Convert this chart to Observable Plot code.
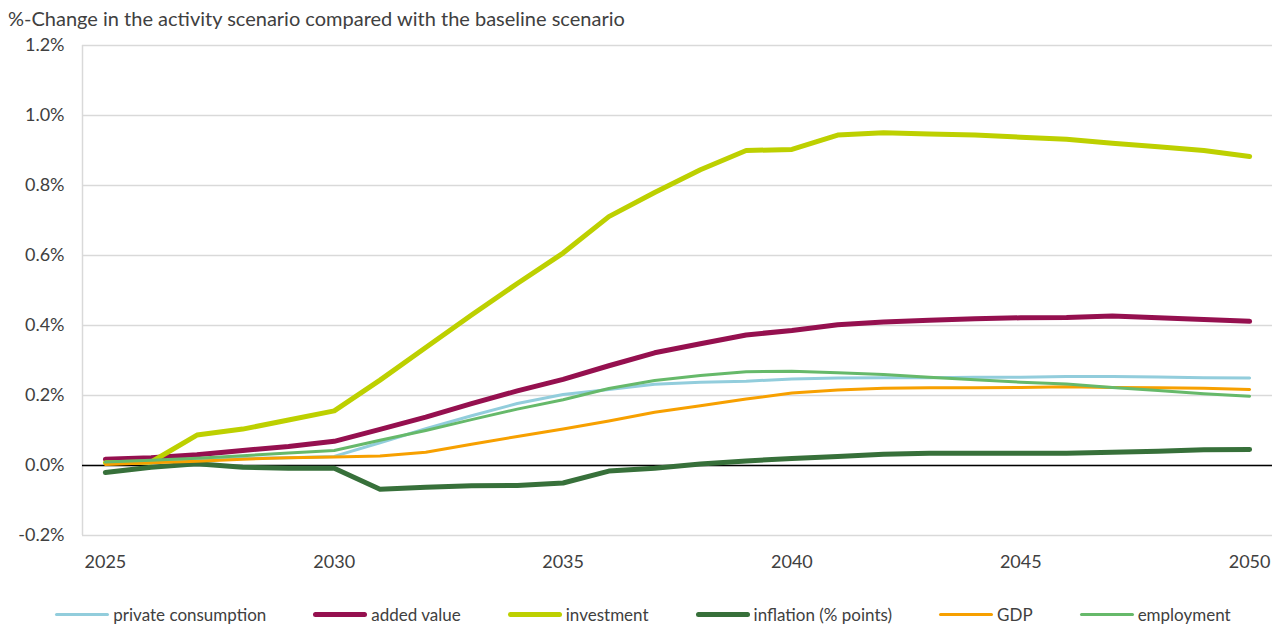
<!DOCTYPE html>
<html>
<head>
<meta charset="utf-8">
<script src="https://cdn.jsdelivr.net/npm/d3@7"></script>
<script src="https://cdn.jsdelivr.net/npm/@observablehq/plot@0.6"></script>
<style>
  html, body { margin: 0; padding: 0; background: #fff; }
  body { font-family: Lato, "Open Sans", sans-serif; color: #404040; width: 1286px; }
  #title { height: 25px; line-height: 36px; font-size: 20px; padding-left: 8px; white-space: nowrap; overflow: visible; position: relative; z-index: 1; }
  #chart svg { display: block; }
  #legend { height: 36px; display: flex; justify-content: center; align-items: center; gap: 47px; font-size: 17px; }
  .item { display: flex; align-items: center; gap: 4px; white-space: nowrap; }
  .swatch { width: 54px; border-radius: 3px; }
</style>
</head>
<body>
<div id="title">%-Change in the activity scenario compared with the baseline scenario</div>
<div id="chart"></div>
<div id="legend"></div>
<script>
// Years of the projection horizon
const years = [2025, 2026, 2027, 2028, 2029, 2030, 2031, 2032, 2033, 2034, 2035, 2036, 2037,
               2038, 2039, 2040, 2041, 2042, 2043, 2044, 2045, 2046, 2047, 2048, 2049, 2050];

// Deviation from the baseline, in percent (inflation in percentage points)
const privateConsumption = [0.015, 0.016, 0.018, 0.020, 0.022, 0.026, 0.065, 0.105, 0.142, 0.177, 0.203, 0.217, 0.232,
                            0.238, 0.241, 0.247, 0.250, 0.251, 0.251, 0.252, 0.252, 0.254, 0.254, 0.253, 0.251, 0.250];
const addedValue = [0.018, 0.022, 0.031, 0.043, 0.054, 0.069, 0.103, 0.138, 0.177, 0.213, 0.246, 0.285, 0.322,
                    0.348, 0.373, 0.386, 0.402, 0.410, 0.415, 0.419, 0.422, 0.423, 0.427, 0.422, 0.417, 0.412];
const investment = [0.008, 0.010, 0.087, 0.104, 0.130, 0.156, 0.244, 0.337, 0.430, 0.520, 0.607, 0.711, 0.780,
                    0.845, 0.900, 0.903, 0.944, 0.951, 0.947, 0.944, 0.938, 0.932, 0.921, 0.911, 0.900, 0.883];
const inflation = [-0.020, -0.005, 0.005, -0.005, -0.008, -0.008, -0.068, -0.062, -0.058, -0.057, -0.050, -0.016, -0.008,
                   0.004, 0.013, 0.020, 0.026, 0.032, 0.035, 0.035, 0.035, 0.035, 0.038, 0.041, 0.045, 0.046];
const gdp = [0.003, 0.008, 0.012, 0.018, 0.022, 0.024, 0.027, 0.038, 0.061, 0.083, 0.104, 0.127, 0.152,
             0.171, 0.190, 0.207, 0.216, 0.221, 0.222, 0.222, 0.223, 0.225, 0.223, 0.222, 0.221, 0.217];
const employment = [0.010, 0.015, 0.021, 0.028, 0.036, 0.043, 0.072, 0.100, 0.131, 0.161, 0.188, 0.220, 0.243,
                    0.257, 0.268, 0.269, 0.265, 0.260, 0.252, 0.245, 0.238, 0.233, 0.223, 0.214, 0.205, 0.198];

const yTicks = [-0.2, 0.0, 0.2, 0.4, 0.6, 0.8, 1.0, 1.2];
const xTicks = [2025, 2030, 2035, 2040, 2045, 2050];

// Series in drawing order (later ones are painted on top)
const series = [
  {name: "private consumption", values: privateConsumption, color: "#92cddc", width: 3},
  {name: "added value", values: addedValue, color: "#95104f", width: 5},
  {name: "investment", values: investment, color: "#bdd000", width: 5},
  {name: "inflation (% points)", values: inflation, color: "#37703a", width: 5},
  {name: "GDP", values: gdp, color: "#f7a000", width: 3},
  {name: "employment", values: employment, color: "#66b96a", width: 3}
];

const lineMarks = series.map(s =>
  Plot.line(years.map((yr, i) => ({year: yr, value: s.values[i]})), {
    x: "year", y: "value",
    stroke: s.color, strokeWidth: s.width,
    strokeLinejoin: "round", strokeLinecap: "round"
  })
);

const chart = Plot.plot({
  width: 1286,
  height: 571,
  marginTop: 20,
  marginBottom: 61,
  marginLeft: 82,
  marginRight: 14,
  style: {fontFamily: "Lato, 'Open Sans', sans-serif", fontSize: "18px", color: "#404040", background: "transparent"},
  x: {domain: [2024.5, 2050.5], ticks: xTicks, tickFormat: d => String(d), tickSize: 0, tickPadding: 20, label: null},
  y: {domain: [-0.2, 1.2], ticks: yTicks, tickFormat: d => d.toFixed(1) + "%", tickSize: 0, tickPadding: 18, label: null},
  marks: [
    Plot.gridY(yTicks, {stroke: "#d9d9d9", strokeOpacity: 1, strokeWidth: 1.5}),
    Plot.ruleX([2024.5], {stroke: "#d9d9d9", strokeWidth: 1.5}),
    Plot.ruleY([0], {stroke: "#000", strokeWidth: 1.5}),
    ...lineMarks,
    Plot.axisX({ticks: xTicks, tickFormat: d => String(d), tickSize: 0, tickPadding: 20, label: null}),
    Plot.axisY({ticks: yTicks, tickFormat: d => d.toFixed(1) + "%", tickSize: 0, tickPadding: 18, label: null})
  ]
});
document.getElementById("chart").appendChild(chart);

// Legend below the chart
const legend = document.getElementById("legend");
for (const s of series) {
  const item = document.createElement("div");
  item.className = "item";
  const sw = document.createElement("span");
  sw.className = "swatch";
  sw.style.background = s.color;
  sw.style.height = s.width + "px";
  const label = document.createElement("span");
  label.textContent = s.name;
  item.appendChild(sw);
  item.appendChild(label);
  legend.appendChild(item);
}
</script>
</body>
</html>
